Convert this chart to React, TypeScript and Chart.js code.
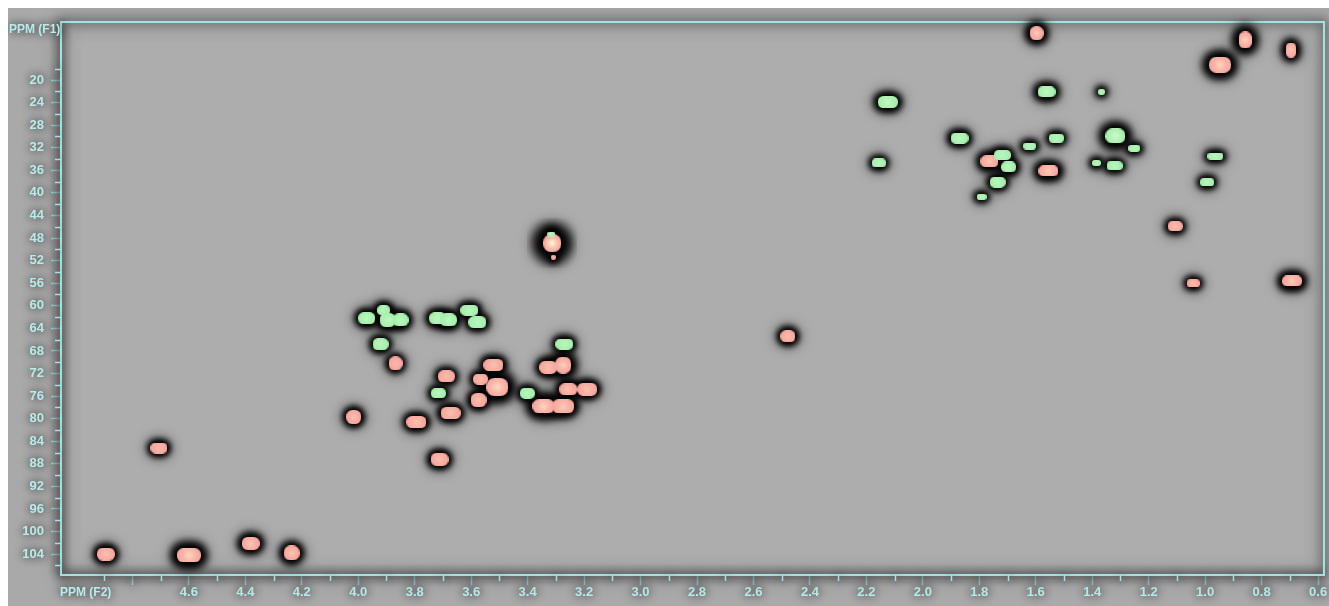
import { useEffect, useRef } from "react";
import { Chart, registerables } from "chart.js";

Chart.register(...registerables);

// Cross-peaks: [δH (F2) ppm, δC (F1) ppm, ΔH ppm, ΔC ppm, relative intensity]
// Positive phase (CH / CH3)
const positivePeaks: number[][] = [
  [1.597, 11.7, 0.05, 2.5, 1.3],
  [0.858, 12.9, 0.046, 3.0, 1.5],
  [0.696, 14.7, 0.035, 2.7, 1.2],
  [0.947, 17.3, 0.078, 2.8, 1.5],
  [1.764, 34.4, 0.064, 2.1, 1.2],
  [1.555, 36.1, 0.071, 1.9, 1.3],
  [1.106, 45.9, 0.053, 1.8, 1.0],
  [1.042, 56.0, 0.046, 1.4, 1.0],
  [0.692, 55.6, 0.071, 1.9, 1.3],
  [2.478, 65.4, 0.053, 2.1, 1.1],
  [3.313, 48.9, 0.064, 3.2, 2.2],
  [3.309, 51.4, 0.018, 0.9, 1.0],
  [3.868, 70.2, 0.05, 2.5, 1.0],
  [3.688, 72.5, 0.06, 2.1, 1.0],
  [3.521, 70.5, 0.071, 2.1, 1.1],
  [3.567, 73.0, 0.053, 1.9, 1.0],
  [3.507, 74.4, 0.078, 3.2, 1.6],
  [3.574, 76.7, 0.057, 2.5, 1.1],
  [3.327, 70.9, 0.064, 2.3, 1.1],
  [3.274, 70.5, 0.057, 3.0, 1.4],
  [3.256, 74.8, 0.064, 2.1, 1.1],
  [3.189, 74.8, 0.071, 2.3, 1.1],
  [3.344, 77.8, 0.078, 2.5, 1.5],
  [3.274, 77.8, 0.078, 2.5, 1.3],
  [4.016, 79.7, 0.053, 2.5, 1.1],
  [3.794, 80.6, 0.071, 2.1, 1.1],
  [3.673, 79.0, 0.071, 2.1, 1.1],
  [3.712, 87.2, 0.064, 2.3, 1.1],
  [4.706, 85.2, 0.06, 1.9, 1.0],
  [4.894, 104.0, 0.064, 2.3, 1.1],
  [4.6, 104.2, 0.085, 2.5, 1.5],
  [4.381, 102.1, 0.064, 2.3, 1.2],
  [4.236, 103.8, 0.057, 2.7, 1.2],
];

// Negative phase (CH2)
const negativePeaks: number[][] = [
  [2.124, 23.9, 0.071, 2.1, 1.2],
  [2.156, 34.7, 0.05, 1.6, 1.0],
  [1.87, 30.3, 0.064, 1.9, 1.1],
  [1.562, 22.1, 0.064, 1.9, 1.2],
  [1.367, 22.1, 0.025, 1.1, 1.0],
  [1.318, 29.9, 0.071, 2.7, 1.5],
  [1.251, 32.1, 0.042, 1.2, 1.0],
  [1.527, 30.3, 0.053, 1.6, 1.0],
  [1.622, 31.7, 0.046, 1.2, 1.0],
  [1.718, 33.3, 0.06, 1.8, 1.0],
  [1.696, 35.4, 0.053, 1.9, 1.1],
  [1.735, 38.1, 0.057, 1.9, 1.0],
  [1.792, 40.7, 0.035, 1.1, 1.0],
  [1.385, 34.7, 0.032, 1.1, 1.0],
  [1.321, 35.2, 0.057, 1.6, 1.0],
  [0.964, 33.5, 0.057, 1.2, 1.0],
  [0.993, 38.1, 0.05, 1.4, 1.0],
  [3.316, 47.3, 0.028, 0.9, 1.0],
  [3.97, 62.2, 0.06, 2.1, 1.1],
  [3.91, 60.8, 0.046, 1.8, 1.1],
  [3.896, 62.5, 0.057, 2.5, 1.2],
  [3.85, 62.5, 0.057, 2.3, 1.1],
  [3.719, 62.2, 0.06, 2.1, 1.1],
  [3.68, 62.5, 0.06, 2.3, 1.1],
  [3.606, 60.8, 0.064, 1.9, 1.0],
  [3.578, 62.9, 0.064, 2.1, 1.0],
  [3.921, 66.8, 0.057, 2.1, 1.0],
  [3.27, 66.8, 0.064, 1.9, 1.0],
  [3.716, 75.5, 0.053, 1.8, 1.0],
  [3.401, 75.5, 0.053, 1.9, 1.0],
];

// Axis ranges and ticks (ppm)
const f2Range = [0.579, 5.053];
const f1Range = [9.72, 107.7];
const f2MajorTicks = [0.6, 0.8, 1.0, 1.2, 1.4, 1.6, 1.8, 2.0, 2.2, 2.4, 2.6, 2.8, 3.0, 3.2, 3.4, 3.6, 3.8, 4.0, 4.2, 4.4, 4.6, 4.8];
const f2MinorTicks = [0.7, 0.9, 1.1, 1.3, 1.5, 1.7, 1.9, 2.1, 2.3, 2.5, 2.7, 2.9, 3.1, 3.3, 3.5, 3.7, 3.9, 4.1, 4.3, 4.5, 4.7, 4.9];
const f2Unlabelled = [4.8];
const f1MajorTicks = [20, 24, 28, 32, 36, 40, 44, 48, 52, 56, 60, 64, 68, 72, 76, 80, 84, 88, 92, 96, 100, 104];
const f1MinorTicks = [18, 22, 26, 30, 34, 38, 42, 46, 50, 54, 58, 62, 66, 70, 74, 78, 82, 86, 90, 94, 98, 102, 106];
const f1Title = "PPM (F1)";
const f2Title = "PPM (F2)";

const AXIS_COLOR = "#a3e2e2";
const LABEL_COLOR = "#b8ecea";
const OUTER_BG = "#a9a9a9";
const PLOT_BG = "#adadad";
const GLOW = "rgba(0,0,0,0.95)";
const FONT_FAMILY = '"Liberation Sans", Arial, sans-serif';

type Rgb = [number, number, number];
const palette: Record<string, { rim: Rgb; core: Rgb; hot: Rgb }> = {
  pos: { rim: [247, 164, 158], core: [252, 188, 168], hot: [255, 250, 214] },
  neg: { rim: [164, 239, 171], core: [186, 247, 190], hot: [238, 255, 228] },
};
const mix = (a: Rgb, b: Rgb, t: number): Rgb =>
  [0, 1, 2].map((k) => Math.round(a[k] + (b[k] - a[k]) * t)) as Rgb;
const rgb = (c: Rgb) => `rgb(${c[0]},${c[1]},${c[2]})`;

const imageCache = new Map<string, HTMLCanvasElement>();
const HALO_PAD = 16;

function blobImage(kind: string, w: number, h: number, intensity: number) {
  const amp = Number.isFinite(intensity) ? intensity : 1;
  const bw = Math.max(3, Math.round(w));
  const bh = Math.max(3, Math.round(h));
  const key = `${kind}|${bw}|${bh}|${amp}`;
  const hit = imageCache.get(key);
  if (hit) return hit;
  const c = document.createElement("canvas");
  const g = c.getContext("2d")!;
  if (kind === "halo") {
    // soft dark surround: a grown copy of the footprint, blurred
    c.width = bw + HALO_PAD * 2;
    c.height = bh + HALO_PAD * 2;
    const grow = 2 + (amp - 1) * 4;
    g.filter = `blur(${3 + (amp - 1) * 3}px)`;
    g.fillStyle = "#000";
    for (let k = 0; k < 2; k++) {
      g.beginPath();
      g.roundRect(HALO_PAD - grow, HALO_PAD - grow, bw + grow * 2, bh + grow * 2, Math.min(bw, bh) * 0.5 + grow);
      g.fill();
    }
    g.filter = "none";
  } else {
    c.width = bw;
    c.height = bh;
    const p = palette[kind];
    const heat = Math.min(1, Math.max(0, (amp - 1) / 1.2));
    const core = mix(p.core, p.hot, heat);
    const grad = g.createRadialGradient(bw / 2, bh / 2, 0, bw / 2, bh / 2, Math.max(bw, bh) / 2);
    grad.addColorStop(0, rgb(core));
    grad.addColorStop(0.5, rgb(mix(core, p.rim, 0.6)));
    grad.addColorStop(1, rgb(p.rim));
    g.beginPath();
    g.roundRect(0, 0, bw, bh, Math.min(bw, bh) * 0.45);
    g.fillStyle = grad;
    g.fill();
  }
  imageCache.set(key, c);
  return c;
}

// Peak footprint in pixels comes from its linewidths through the axis scales
const peakStyle = (kind: string) => (ctx: any) => {
  const raw = ctx && ctx.raw;
  const chart = ctx && ctx.chart;
  if (!raw || !chart || !chart.scales || !chart.scales.x || !chart.scales.y) return "circle";
  const xs = chart.scales.x;
  const ys = chart.scales.y;
  const w = Math.abs(xs.getPixelForValue(raw.x + raw.dx / 2) - xs.getPixelForValue(raw.x - raw.dx / 2));
  const h = Math.abs(ys.getPixelForValue(raw.y + raw.dy / 2) - ys.getPixelForValue(raw.y - raw.dy / 2));
  if (!Number.isFinite(w) || !Number.isFinite(h) || w <= 0 || h <= 0) return "circle";
  return blobImage(kind, w, h, raw.i);
};

const toPoints = (rows: number[][]) =>
  rows.map(([x, y, dx, dy, i]) => ({ x, y, dx, dy, i }));

const glowPlugin = {
  id: "spectrumGlow",
  beforeDraw(chart: any) {
    const { ctx, chartArea: a, width, height } = chart;
    ctx.save();
    ctx.shadowBlur = 0;
    ctx.shadowColor = "rgba(0,0,0,0)";
    ctx.fillStyle = OUTER_BG;
    ctx.fillRect(0, 0, width, height);
    ctx.fillStyle = PLOT_BG;
    ctx.fillRect(a.left, a.top, a.right - a.left, a.bottom - a.top);
    ctx.restore();
    ctx.shadowColor = GLOW;
    ctx.shadowBlur = 10;
  },
  beforeDatasetsDraw(chart: any) {
    const { ctx, chartArea: a, scales } = chart;
    ctx.save();
    ctx.shadowColor = GLOW;
    ctx.strokeStyle = AXIS_COLOR;
    // whole frame, drawn twice so its glow reaches well into the plot
    ctx.lineWidth = 2;
    ctx.shadowBlur = 18;
    ctx.strokeRect(a.left, a.top, a.right - a.left, a.bottom - a.top);
    ctx.shadowBlur = 10;
    ctx.strokeRect(a.left, a.top, a.right - a.left, a.bottom - a.top);
    // minor ticks
    ctx.lineWidth = 1.5;
    ctx.beginPath();
    for (const v of f2MinorTicks) {
      const px = Math.round(scales.x.getPixelForValue(v)) + 0.5;
      ctx.moveTo(px, a.bottom);
      ctx.lineTo(px, a.bottom + 6);
    }
    for (const v of f1MinorTicks) {
      const py = Math.round(scales.y.getPixelForValue(v)) + 0.5;
      ctx.moveTo(a.left - 6, py);
      ctx.lineTo(a.left, py);
    }
    ctx.stroke();
    // axis titles
    ctx.fillStyle = LABEL_COLOR;
    ctx.font = `bold 12px ${FONT_FAMILY}`;
    ctx.textBaseline = "middle";
    ctx.textAlign = "left";
    ctx.fillText(f1Title, 1, 22);
    ctx.fillText(f2Title, a.left - 1, 585);
    ctx.restore();
  },
  beforeDatasetDraw(chart: any, args: any) {
    const { ctx } = chart;
    const ds = chart.data.datasets[args.index];
    ctx.save();
    if (ds.halo) {
      ctx.shadowColor = "rgba(0,0,0,0.75)";
      ctx.shadowBlur = ds.halo;
    } else {
      ctx.shadowBlur = 0;
      ctx.shadowColor = "rgba(0,0,0,0)";
    }
  },
  afterDatasetDraw(chart: any) {
    chart.ctx.restore();
  },
  afterDraw(chart: any) {
    chart.ctx.shadowBlur = 0;
    chart.ctx.shadowColor = "rgba(0,0,0,0)";
  },
};

export default function App() {
  const ref = useRef<HTMLCanvasElement>(null);

  useEffect(() => {
    const canvas = ref.current;
    if (!canvas) return;
    const pos = toPoints(positivePeaks);
    const neg = toPoints(negativePeaks);
    // halo: shadow blur of the dark under-layer (0 for the coloured layer)
    const layer = (label: string, data: any[], kind: string, order: number, halo: number) => ({
      label,
      data,
      halo,
      order,
      clip: false as const,
      pointRadius: 4,
      pointHoverRadius: 4,
      pointStyle: peakStyle(kind),
    });

    const chart = new Chart(canvas, {
      type: "scatter",
      data: {
        datasets: [
          layer("CH/CH3 halo", pos, "halo", 6, 12),
          layer("CH2 halo", neg, "halo", 5, 12),
          layer("CH/CH3", pos, "pos", 2, 0),
          layer("CH2", neg, "neg", 1, 0),
        ] as any,
      },
      options: {
        animation: false,
        responsive: false,
        events: [],
        layout: { padding: { top: 14, right: 4, left: 0, bottom: 0 } },
        plugins: {
          legend: { display: false },
          tooltip: { enabled: false },
        },
        scales: {
          x: {
            type: "linear",
            position: "bottom",
            reverse: true,
            min: f2Range[0],
            max: f2Range[1],
            afterBuildTicks: (s: any) => {
              s.ticks = f2MajorTicks.map((value) => ({ value }));
            },
            afterFit: (s: any) => {
              s.height = 31;
              s.paddingLeft = 0;
              s.paddingRight = 0;
            },
            ticks: {
              autoSkip: false,
              maxRotation: 0,
              padding: 0,
              color: LABEL_COLOR,
              font: { family: FONT_FAMILY, size: 13, weight: "bold" },
              callback: (v: any) =>
                f2Unlabelled.some((u) => Math.abs(u - v) < 1e-6) ? "" : Number(v).toFixed(1),
            },
            grid: {
              drawOnChartArea: false,
              drawTicks: true,
              tickLength: 10,
              tickColor: AXIS_COLOR,
              tickWidth: 1.5,
            },
            border: { display: true, color: AXIS_COLOR, width: 2 },
          },
          y: {
            type: "linear",
            position: "left",
            reverse: true,
            min: f1Range[0],
            max: f1Range[1],
            afterBuildTicks: (s: any) => {
              s.ticks = f1MajorTicks.map((value) => ({ value }));
            },
            afterFit: (s: any) => {
              s.width = 53;
              s.paddingTop = 0;
              s.paddingBottom = 0;
            },
            ticks: {
              autoSkip: false,
              padding: 7,
              color: LABEL_COLOR,
              font: { family: FONT_FAMILY, size: 13, weight: "bold" },
              callback: (v: any) => String(v),
            },
            grid: {
              drawOnChartArea: false,
              drawTicks: true,
              tickLength: 10,
              tickColor: AXIS_COLOR,
              tickWidth: 1.5,
            },
            border: { display: true, color: AXIS_COLOR, width: 2 },
          },
        },
      } as any,
      plugins: [glowPlugin],
    });

    return () => chart.destroy();
  }, []);

  return (
    <div style={{ position: "fixed", left: 8, top: 8, width: 1321, height: 598 }}>
      <canvas
        ref={ref}
        width={1321}
        height={598}
        style={{ display: "block", width: 1321, height: 598 }}
      />
    </div>
  );
}
